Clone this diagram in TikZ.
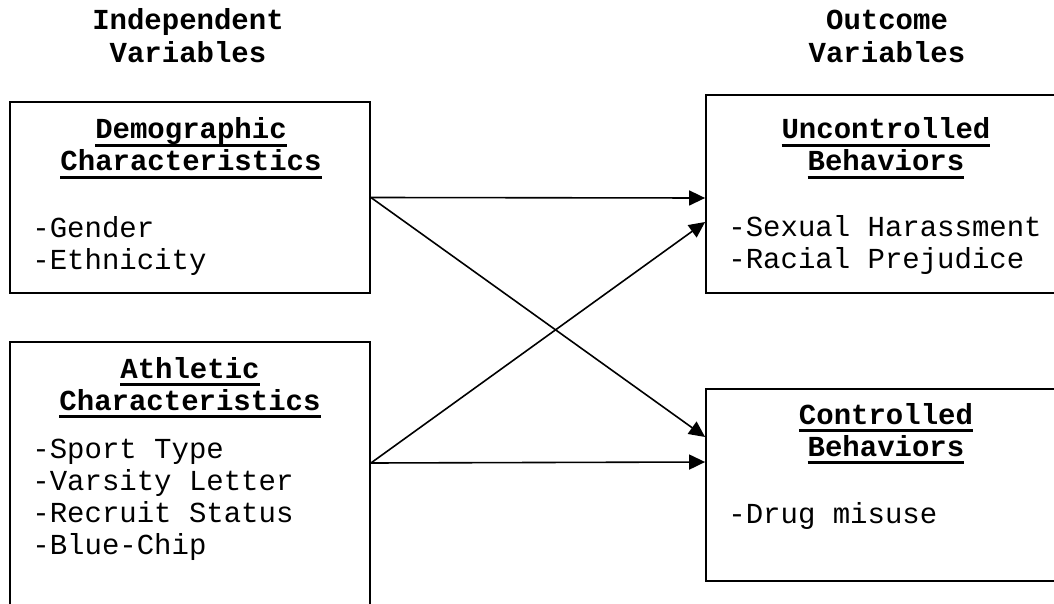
\documentclass[tikz,border=0pt]{standalone}
\usepackage{fontspec}
\setmainfont{Liberation Mono}
\usetikzlibrary{arrows.meta,fit}
\newcommand{\ulhead}[1]{\setbox0\hbox{#1}\rlap{\vrule height -2.6pt depth 4.1pt width \wd0}\box0}
\tikzset{
  varbox/.style={draw, line width=0.9pt, inner sep=0pt},
  head/.style={font=\fontsize{14.5}{16.5}\selectfont\bfseries, align=center, anchor=base, inner sep=0pt},
  title/.style={font=\fontsize{14.5}{16}\selectfont\bfseries, align=center, anchor=base, inner sep=0pt},
  items/.style={font=\fontsize{14.5}{16}\selectfont, align=left, anchor=base west, inner sep=0pt},
  link/.style={line width=0.8pt, -{Triangle[length=8pt,width=7.5pt]}}
}
\begin{document}
\begin{tikzpicture}[x=0.5pt,y=-0.5pt]
    \useasboundingbox (0,0) rectangle (1054,604);
    \clip (0,0) rectangle (1054,604);
    % column headings
    \node[head] (indep) at (188,63) {Independent\\Variables};
    \node[head] (outc) at (887,63) {Outcome\\Variables};
    % boxes
    \node[varbox, fit={(10,102) (370,293)}] (demo) {};
    \node[varbox, fit={(10,342) (370,614)}] (ath) {};
    \node[varbox, fit={(706,95) (1064,293)}] (unc) {};
    \node[varbox, fit={(706,389) (1064,581)}] (ctl) {};
    % box texts
    \node[title] (demot) at (191,171) {\ulhead{Demographic}\\\ulhead{Characteristics}};
    \node[items] (demol) at (32,270) {-Gender\\-Ethnicity};
    \node[title] (atht) at (190,410) {\ulhead{Athletic}\\\ulhead{Characteristics}};
    \node[items] (athl) at (32,554) {-Sport Type\\-Varsity Letter\\-Recruit Status\\-Blue-Chip};
    \node[title] (unct) at (886,171) {\ulhead{Uncontrolled}\\\ulhead{Behaviors}};
    \node[items] (uncl) at (728,269) {-Sexual Harassment\\-Racial Prejudice};
    \node[title] (ctlt) at (886,456) {\ulhead{Controlled}\\\ulhead{Behaviors}};
    \node[items] (ctll) at (728,523) {-Drug misuse};
    % paths
    \draw[link] (demo.east) -- ([yshift=-2pt]unc.west);
    \draw[link] (demo.east) -- ([yshift=24pt]ctl.west);
    \draw[link] ([yshift=7.5pt]ath.east) -- ([yshift=-14pt]unc.west);
    \draw[link] ([yshift=7.5pt]ath.east) -- ([yshift=11.5pt]ctl.west);
\end{tikzpicture}
\end{document}
